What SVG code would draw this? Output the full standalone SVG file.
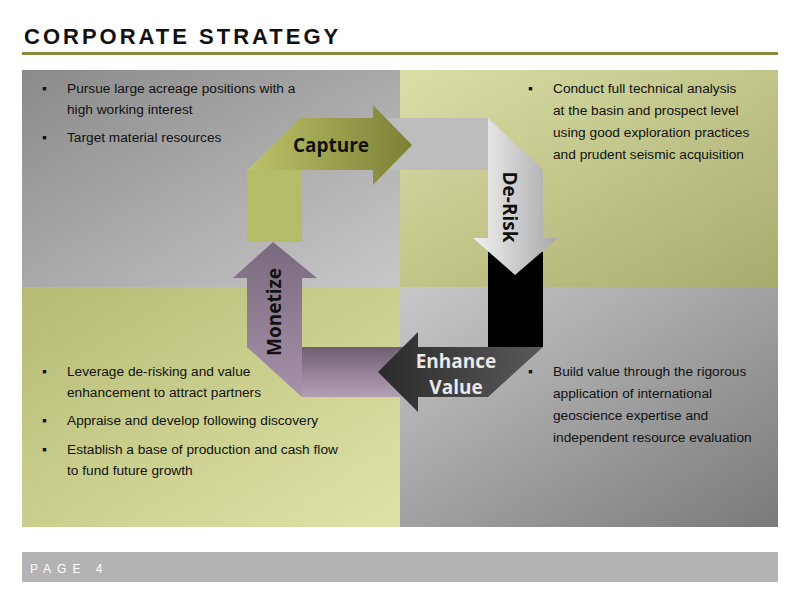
<svg xmlns="http://www.w3.org/2000/svg" width="800" height="600" viewBox="0 0 800 600">
<defs>
<linearGradient id="gTL" x1="0" y1="0" x2="1" y2="1"><stop offset="0" stop-color="#8a8a8a"/><stop offset="1" stop-color="#c8c8c8"/></linearGradient>
<linearGradient id="gTR" x1="0" y1="0" x2="1" y2="1"><stop offset="0" stop-color="#dadfa6"/><stop offset="1" stop-color="#a7ab6e"/></linearGradient>
<linearGradient id="gBL" x1="0" y1="0" x2="1" y2="1"><stop offset="0" stop-color="#b5bb74"/><stop offset="1" stop-color="#dfe3a8"/></linearGradient>
<linearGradient id="gBR" x1="0" y1="0" x2="1" y2="1"><stop offset="0" stop-color="#c8c8c8"/><stop offset="1" stop-color="#7a7a7a"/></linearGradient>
<linearGradient id="gCap" x1="0" y1="0" x2="1" y2="0"><stop offset="0" stop-color="#bcc36a"/><stop offset="1" stop-color="#7d8034"/></linearGradient>
<linearGradient id="gDR" x1="0" y1="0" x2="1" y2="0"><stop offset="0" stop-color="#f2f2f2"/><stop offset="1" stop-color="#a8a8a8"/></linearGradient>
<linearGradient id="gEV" x1="0" y1="0" x2="1" y2="0"><stop offset="0" stop-color="#2a2a2a"/><stop offset="1" stop-color="#5a5a5a"/></linearGradient>
<linearGradient id="gMo" x1="0" y1="0" x2="0" y2="1"><stop offset="0" stop-color="#6f5f72"/><stop offset="1" stop-color="#b4a0b6"/></linearGradient>
<linearGradient id="gMoH" x1="0" y1="0" x2="0" y2="1"><stop offset="0" stop-color="#7a6a7e"/><stop offset="1" stop-color="#a692a9"/></linearGradient>
</defs>
<style>
.t{font-family:"Liberation Sans",Arial,sans-serif;font-size:13.7px;fill:#111}
.b{font-family:"Open Sans","Liberation Sans",sans-serif;font-weight:bold;font-size:19px}
</style>
<rect width="800" height="600" fill="#fff"/>
<text x="24" y="44" font-family="Liberation Sans,Arial,sans-serif" font-weight="bold" font-size="22" letter-spacing="3" fill="#111">CORPORATE STRATEGY</text>
<rect x="22" y="52" width="756" height="3" fill="#8a8a3c"/>
<g id="background">
<rect x="22" y="70" width="378" height="217" fill="url(#gTL)"/>
<rect x="400" y="70" width="378" height="217" fill="url(#gTR)"/>
<rect x="22" y="287" width="378" height="240" fill="url(#gBL)"/>
<rect x="400" y="287" width="378" height="240" fill="url(#gBR)"/>
</g>
<g id="connectors">
<polygon points="373,118 488,118 543,170 373,170" fill="#bdbdbd"/>
<polygon points="488,252 543,252 543,347 488,347" fill="#000"/>
<polygon points="418,347 302,347 302,397 418,397" fill="url(#gMo)"/>
<polygon points="247,347 302,347 302,397" fill="#b4a0b6"/>
<rect x="247" y="169" width="55" height="73" fill="#b3bc66"/>
</g>
<g id="capture">
<polygon points="300,118 373,118 373,105 412,145 373,185 373,170 247,170" fill="url(#gCap)"/>
<text class="b" x="331" y="152" text-anchor="middle" fill="#111">Capture</text>
</g>
<g id="derisk">
<polygon points="488,118 543,170 543,238 558,238 515,275 473,238 488,238" fill="url(#gDR)"/>
<text class="b" transform="translate(503,207) rotate(90)" text-anchor="middle" fill="#111">De-Risk</text>
</g>
<g id="enhance">
<polygon points="543,347 488,397 418,397 418,412 378,372 418,332 418,347" fill="url(#gEV)"/>
<text class="b" x="456" y="368" text-anchor="middle" fill="#e8e8e8">Enhance</text>
<text class="b" x="456" y="394" text-anchor="middle" fill="#e8e8e8">Value</text>
</g>
<g id="monetize">
<polygon points="247,347 247,278 233,278 273,242 317,278 302,278 302,397" fill="url(#gMoH)"/>
<text class="b" transform="translate(281,312) rotate(-90)" text-anchor="middle" fill="#111">Monetize</text>
</g>
<g id="text-tl" class="t">
<text x="42" y="93">▪</text><text x="67" y="93">Pursue large acreage positions with a</text>
<text x="67" y="114">high working interest</text>
<text x="42" y="142">▪</text><text x="67" y="142">Target material resources</text>
</g>
<g id="text-tr" class="t">
<text x="528" y="93">▪</text><text x="553" y="93">Conduct full technical analysis</text>
<text x="553" y="115">at the basin and prospect level</text>
<text x="553" y="137">using good exploration practices</text>
<text x="553" y="159">and prudent seismic acquisition</text>
</g>
<g id="text-bl" class="t">
<text x="42" y="376">▪</text><text x="67" y="376">Leverage de-risking and value</text>
<text x="67" y="397">enhancement to attract partners</text>
<text x="42" y="425">▪</text><text x="67" y="425">Appraise and develop following discovery</text>
<text x="42" y="454">▪</text><text x="67" y="454">Establish a base of production and cash flow</text>
<text x="67" y="475">to fund future growth</text>
</g>
<g id="text-br" class="t">
<text x="528" y="376">▪</text><text x="553" y="376">Build value through the rigorous</text>
<text x="553" y="398">application of international</text>
<text x="553" y="420">geoscience expertise and</text>
<text x="553" y="442">independent resource evaluation</text>
</g>
<rect x="22" y="552" width="756" height="30" fill="#b3b3b3"/>
<text x="30" y="573" font-family="Liberation Sans,Arial,sans-serif" font-size="12" letter-spacing="6" fill="#fff">PAGE 4</text>
</svg>
